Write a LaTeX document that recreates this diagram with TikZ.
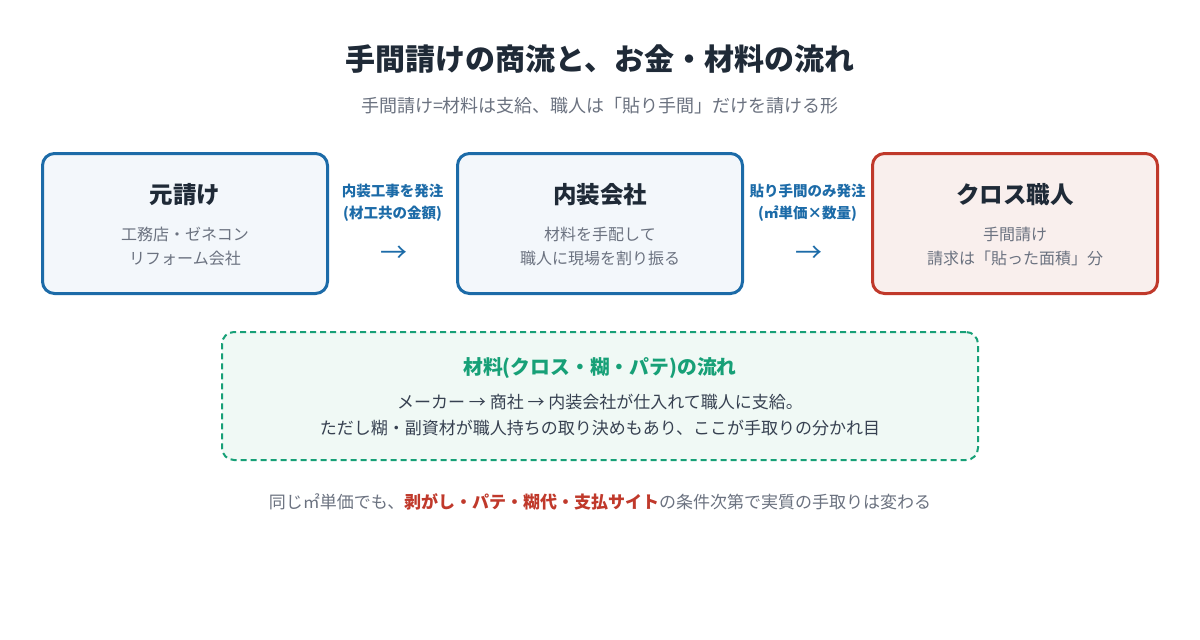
\documentclass[tikz,border=0pt]{standalone}
\usepackage{fontspec}
\setmainfont{Noto Sans CJK JP}
\usepackage{xcolor}
\usetikzlibrary{positioning}

\definecolor{ink}{HTML}{1F2A37}
\definecolor{muted}{HTML}{6B7280}
\definecolor{body}{HTML}{374151}
\definecolor{flowblue}{HTML}{1C6BA8}
\definecolor{paleblue}{HTML}{F3F7FB}
\definecolor{craftred}{HTML}{C0392B}
\definecolor{palered}{HTML}{F9EFED}
\definecolor{matgreen}{HTML}{17A077}
\definecolor{palegreen}{HTML}{F0F9F5}

\newcommand{\fsz}[1]{\fontsize{#1}{#1}\selectfont}

\begin{document}
\begin{tikzpicture}[x=1pt, y=-1pt,
	party/.style={draw=flowblue, line width=3pt, rounded corners=12pt, fill=paleblue, minimum width=285pt, minimum height=140pt},
	partyname/.style={inner sep=0pt, text=ink, font=\fsz{23.5}\bfseries},
	partynote/.style={inner sep=0pt, text=muted, align=center, font=\fontsize{16}{24}\selectfont},
	order/.style={inner sep=0pt, text=flowblue, align=center, font=\fontsize{14.5}{22}\selectfont\bfseries},
	flow/.style={inner sep=0pt, text=flowblue, font=\fsz{27}}]
		\useasboundingbox (0,0) rectangle (1200,640);
		\fill[white] (0,0) rectangle (1200,640);
		% heading
		\node[inner sep=0pt, text=ink, font=\fsz{30}\bfseries] (title) at (600,59) {手間請けの商流と、お金・材料の流れ};
		\node[inner sep=0pt, text=muted, font=\fsz{18}] (subtitle) at (600,105.5) {手間請け=材料は支給、職人は「貼り手間」だけを請ける形};
		% the three parties
		\node[party] (prime) at (185,223.5) {};
		\node[partyname, below=31.5pt of prime.north] (primename) {元請け};
		\node[partynote, below=21pt of primename] {工務店・ゼネコン\\リフォーム会社};
		\node[party] (interior) at (600,223.5) {};
		\node[partyname, below=31.5pt of interior.north] (interiorname) {内装会社};
		\node[partynote, below=21pt of interiorname] {材料を手配して\\職人に現場を割り振る};
		\node[party, draw=craftred, fill=palered] (craftsman) at (1015,223.5) {};
		\node[partyname, below=31.5pt of craftsman.north] (craftsmanname) {クロス職人};
		\node[partynote, below=21pt of craftsmanname] {手間請け\\請求は「貼った面積」分};
		% orders between them
		\node[order] (order1) at (392.5,203) {内装工事を発注\\(材工共の金額)};
		\node[flow] (flow1) at (393.5,254) {→};
		\node[order] (order2) at (807.5,203) {貼り手間のみ発注\\(㎡単価×数量)};
		\node[flow] (flow2) at (808.5,254) {→};
		% material flow
		\node[draw=matgreen, line width=2pt, dash pattern=on 6pt off 4pt, rounded corners=12pt, fill=palegreen, minimum width=756pt, minimum height=128pt] (material) at (600,396) {};
		\node[inner sep=0pt, text=matgreen, font=\fsz{19.8}\bfseries, below=26pt of material.north] (materialname) {材料(クロス・糊・パテ)の流れ};
		\node[inner sep=0pt, text=body, align=center, font=\fontsize{17}{26}\selectfont, below=16pt of materialname] {メーカー → 商社 → 内装会社が仕入れて職人に支給。\\ただし糊・副資材が職人持ちの取り決めもあり、ここが手取りの分かれ目};
		% footnote
		\node[inner sep=0pt, text=muted, font=\fsz{17}] (footnote) at (600,501.5) {同じ㎡単価でも、\textcolor{craftred}{\bfseries 剥がし・パテ・糊代・支払サイト}の条件次第で実質の手取りは変わる};
	\end{tikzpicture}
\end{document}
